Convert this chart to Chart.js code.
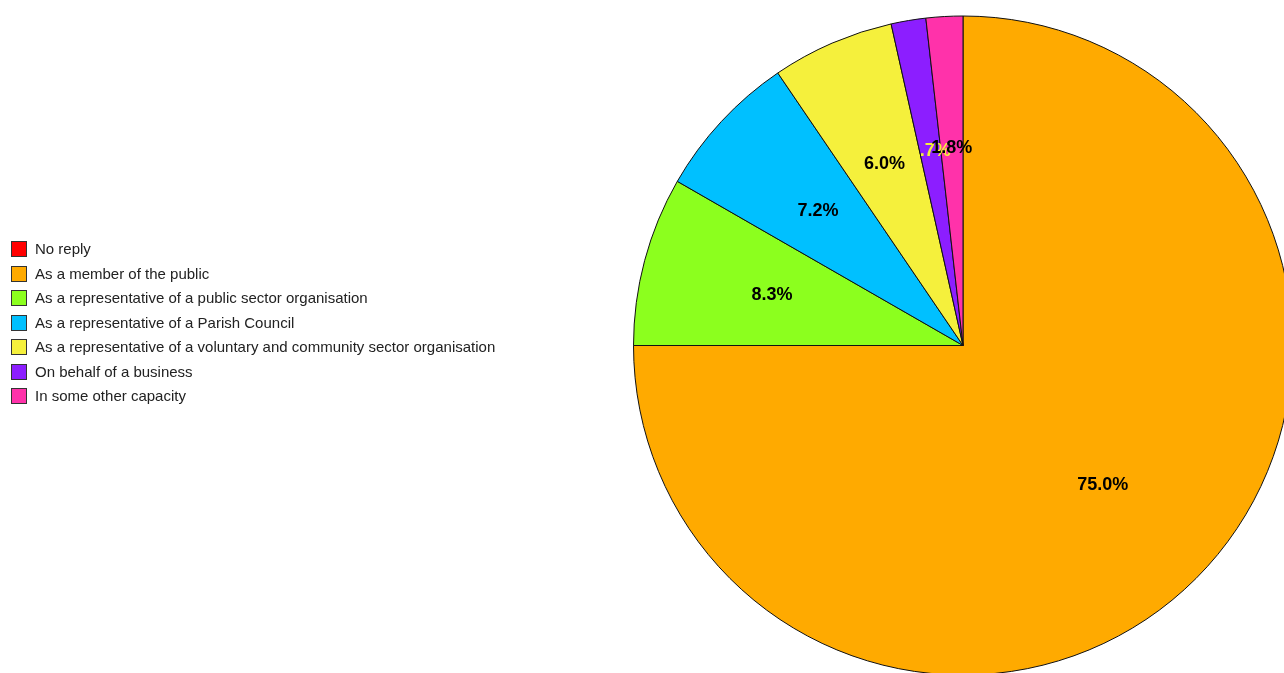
<!DOCTYPE html>
<html>
<head>
<meta charset="utf-8">
<script src="https://cdn.jsdelivr.net/npm/chart.js@4.4.1/dist/chart.umd.min.js"></script>
<style>
  body { margin: 0; background: #fff; overflow: hidden; }
  #wrap { position: relative; width: 1284px; height: 673px; overflow: hidden; }
  #myChart { position: absolute; left: 0; top: 0; }
  #legend { position: absolute; left: 11px; top: 240px; font-family: "Liberation Sans", Arial, sans-serif; font-size: 15px; color: #222; }
  .row { height: 24.5px; display: flex; align-items: flex-start; }
  .box { width: 14px; height: 14px; border: 1px solid #333; margin-right: 8px; margin-top: 1px; }
  .row span { line-height: 17px; }
</style>
</head>
<body>
<div id="wrap">
  <canvas id="myChart" width="1300" height="690"></canvas>
  <div id="legend"></div>
</div>
<script>
const categories = [
  "No reply",
  "As a member of the public",
  "As a representative of a public sector organisation",
  "As a representative of a Parish Council",
  "As a representative of a voluntary and community sector organisation",
  "On behalf of a business",
  "In some other capacity",
];
const percentages = [0, 75.0, 8.3, 7.2, 6.0, 1.7, 1.8];

const sliceColors = ["#FF0000", "#FFAA00", "#8CFF1E", "#00C0FF", "#F5F03C", "#8C1EFF", "#FF32AA"];
const labelColors = ["#000", "#000", "#000", "#000", "#000", "#F5F03C", "#000"];

// legend built from the same arrays
const legendEl = document.getElementById("legend");
categories.forEach((name, i) => {
  const row = document.createElement("div");
  row.className = "row";
  row.innerHTML = `<div class="box" style="background:${sliceColors[i]}"></div><span>${name}</span>`;
  legendEl.appendChild(row);
});

// draw the percentage text inside each slice
const sliceLabels = {
  id: "sliceLabels",
  afterDatasetsDraw(chart) {
    const ctx = chart.ctx;
    const meta = chart.getDatasetMeta(0);
    ctx.save();
    ctx.font = "bold 18px 'Liberation Sans', Arial, sans-serif";
    ctx.textAlign = "center";
    ctx.textBaseline = "middle";
    meta.data.forEach((arc, i) => {
      const v = percentages[i];
      if (!v) return;
      const p = arc.getProps(["x", "y", "startAngle", "endAngle", "outerRadius"], true);
      const mid = (p.startAngle + p.endAngle) / 2;
      const r = p.outerRadius * 0.6;
      ctx.fillStyle = labelColors[i];
      ctx.fillText(v.toFixed(1) + "%", p.x + Math.cos(mid) * r, p.y + Math.sin(mid) * r);
    });
    ctx.restore();
  },
};

const ctx = document.getElementById("myChart");

new Chart(ctx, {
  type: "pie",
  data: {
    labels: categories,
    datasets: [
      {
        data: percentages,
        backgroundColor: sliceColors,
        borderColor: "#111",
        borderWidth: 1,
      },
    ],
  },
  options: {
    responsive: false,
    animation: false,
    layout: {
      padding: { top: 15, left: 633, right: 7, bottom: 14 },
    },
    plugins: {
      legend: { display: false },
      tooltip: { enabled: false },
    },
  },
  plugins: [sliceLabels],
});
</script>
</body>
</html>
